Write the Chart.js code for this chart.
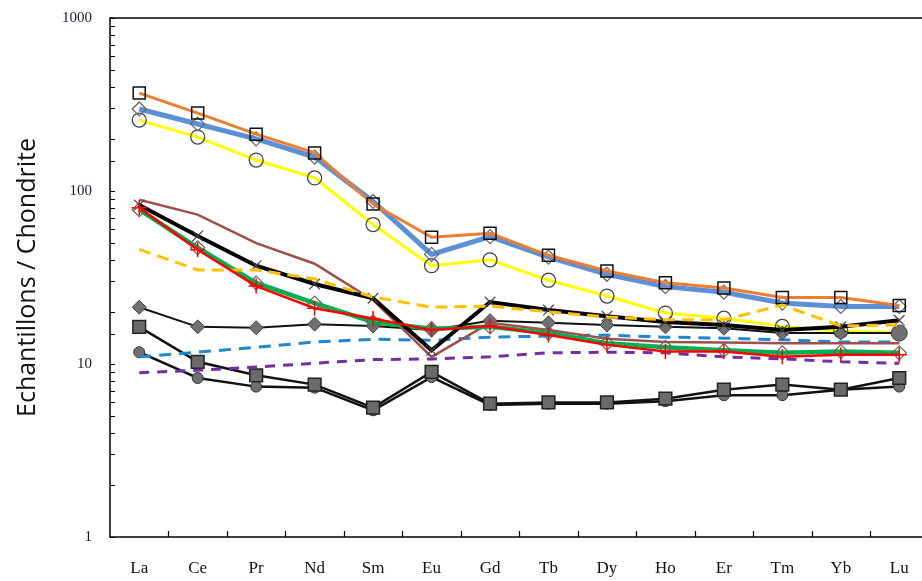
<!DOCTYPE html>
<html>
<head>
<meta charset="utf-8">
<script src="https://cdn.jsdelivr.net/npm/chart.js@4.4.1/dist/chart.umd.min.js"></script>
<style>
  html, body { margin: 0; padding: 0; background: #fff; overflow: hidden; }
  #wrap { width: 922px; height: 581px; overflow: hidden; }
</style>
</head>
<body>
<div id="wrap"><canvas id="ree" width="939" height="581"></canvas></div>
<script>
// Terres rares normalisées aux chondrites
const elements = ['La', 'Ce', 'Pr', 'Nd', 'Sm', 'Eu', 'Gd', 'Tb', 'Dy', 'Ho', 'Er', 'Tm', 'Yb', 'Lu'];
const yTickLabels = [1, 10, 100, 1000];

const orangeSq   = [368, 282, 213, 166, 84, 54, 57, 42.5, 34.5, 29.5, 27.5, 24.2, 24.2, 21.8];
const blueDiam   = [298, 244, 200, 157, 87, 43, 54.5, 41.5, 33, 28, 26, 22.5, 21.5, 21.5];
const yellowCirc = [257, 205, 151, 119, 64, 37, 40, 30.5, 24.7, 19.7, 18.4, 16.5, 15.5, 15.2];
const goldDash   = [46, 35, 35, 31, 24.4, 21.3, 21.6, 20, 18.7, 18, 18, 21.9, 16.6, 16.8];
const blackX     = [83, 55, 37, 29, 24, 12, 22.8, 20.5, 18.9, 17.5, 16.8, 15.7, 16.4, 17.9];
const greyDiam   = [21.3, 16.4, 16.2, 17, 16.6, 15.7, 17.8, 17.3, 16.8, 16.4, 16.1, 15.1, 15.1, 15.1];
const brown      = [89, 73, 50, 38, 23.4, 11, 17.3, 15.7, 14, 13.4, 13.3, 13.2, 13.2, 13.2];
const greenDiam  = [78, 47, 29.4, 22.5, 17.5, 16, 16.4, 15.1, 13.2, 12.5, 12, 11.6, 11.8, 11.6];
const redCross   = [80, 45.7, 28.2, 21, 18.3, 15.7, 16.6, 14.7, 12.9, 11.8, 11.8, 11, 11.3, 11.3];
const blueDash   = [11, 11.7, 12.5, 13.4, 13.9, 13.7, 14.3, 14.5, 14.7, 14.3, 14.1, 13.8, 13.4, 13.4];
const purpleDash = [8.9, 9.2, 9.6, 10.1, 10.6, 10.7, 11, 11.6, 11.7, 11.6, 11, 10.7, 10.3, 10.1];
const greySq     = [16.4, 10.3, 8.6, 7.6, 5.6, 9.0, 5.9, 6.0, 6.0, 6.3, 7.1, 7.6, 7.1, 8.3];
const greyCirc   = [11.7, 8.3, 7.4, 7.3, 5.4, 8.4, 5.8, 5.9, 5.9, 6.1, 6.6, 6.6, 7.1, 7.4];

function serie(data, color, width, extra) {
  return Object.assign({
    data,
    borderColor: color,
    borderWidth: width,
    tension: 0,
    pointRadius: 0,
    pointHoverRadius: 0,
    fill: false
  }, extra || {});
}

// cadre + petites graduations vers l'intérieur
const framePlugin = {
  id: 'frame',
  afterDraw(chart) {
    const { ctx, chartArea: a, scales: { x, y } } = chart;
    ctx.save();
    ctx.strokeStyle = '#000';
    ctx.lineWidth = 1.5;
    ctx.strokeRect(a.left, a.top, a.right - a.left, a.bottom - a.top);
    ctx.lineWidth = 1.2;
    ctx.beginPath();
    y.ticks.forEach(t => {
      const py = Math.round(y.getPixelForValue(t.value)) + 0.5;
      ctx.moveTo(a.left, py);
      ctx.lineTo(a.left + 5, py);
    });
    for (let i = 0; i < elements.length - 1; i++) {
      const px = Math.round((x.getPixelForValue(i) + x.getPixelForValue(i + 1)) / 2) + 0.5;
      ctx.moveTo(px, a.bottom);
      ctx.lineTo(px, a.bottom - 6);
    }
    ctx.stroke();
    ctx.restore();
  }
};

const clear = 'rgba(255,255,255,0)';
const luCircle = elements.map((e, i) => i === elements.length - 1 ? 'circle' : 'rectRot');
const luRadius = elements.map((e, i) => i === elements.length - 1 ? 8 : 7);

new Chart(document.getElementById('ree'), {
  type: 'line',
  data: {
    labels: elements,
    datasets: [
      serie(redCross, '#ff0000', 2.5, { order: 1, pointStyle: 'cross', pointRadius: 7.5, pointBorderColor: '#ff0000', pointBorderWidth: 1.5 }),
      serie(goldDash, '#ffc000', 3, { order: 2, borderDash: [12, 7] }),
      serie(blackX, '#000000', 4, { order: 3, pointStyle: 'crossRot', pointRadius: 7.5, pointBorderColor: '#444', pointBorderWidth: 1.2 }),
      serie(greenDiam, '#00b050', 4.5, { order: 4, pointStyle: 'rectRot', pointRadius: 7, pointBorderColor: '#666', pointBackgroundColor: clear, pointBorderWidth: 1.2 }),
      serie(brown, '#a0504a', 2.5, { order: 5 }),
      serie(greyDiam, '#111', 2, { order: 6, pointStyle: luCircle, pointRadius: luRadius, pointBorderColor: '#444', pointBackgroundColor: '#707070', pointBorderWidth: 1 }),
      serie(orangeSq, '#ed7d31', 3, { order: 7, pointStyle: 'rect', pointRadius: 8.5, pointBorderColor: '#111', pointBackgroundColor: clear, pointBorderWidth: 1.5 }),
      serie(blueDiam, '#5b8fd6', 5, { order: 8, pointStyle: 'rectRot', pointRadius: 7, pointBorderColor: '#666', pointBackgroundColor: clear, pointBorderWidth: 1.2 }),
      serie(yellowCirc, '#ffff00', 3, { order: 9, pointStyle: 'circle', pointRadius: 7, pointBorderColor: '#444', pointBackgroundColor: clear, pointBorderWidth: 1.3 }),
      serie(blueDash, '#1f86d2', 3, { order: 10, borderDash: [12, 8] }),
      serie(purpleDash, '#7030a0', 3, { order: 11, borderDash: [10, 8] }),
      serie(greySq, '#111', 2.5, { order: 12, pointStyle: 'rect', pointRadius: 9, pointBorderColor: '#222', pointBackgroundColor: '#6a6a6a', pointBorderWidth: 1.5 }),
      serie(greyCirc, '#111', 2.5, { order: 13, pointStyle: 'circle', pointRadius: 5.5, pointBorderColor: '#333', pointBackgroundColor: '#707070', pointBorderWidth: 1 })
    ]
  },
  options: {
    responsive: false,
    devicePixelRatio: 1,
    animation: false,
    layout: { padding: { top: 18, right: 1, left: 0, bottom: 0 } },
    plugins: { legend: { display: false }, tooltip: { enabled: false } },
    scales: {
      x: {
        type: 'category',
        offset: true,
        grid: { display: false, drawTicks: false },
        border: { display: false },
        ticks: {
          padding: 21,
          color: '#111',
          font: { family: '"Liberation Serif", "DejaVu Serif", serif', size: 17 },
          maxRotation: 0,
          autoSkip: false
        },
        afterFit(scale) { scale.height = 44; scale.paddingLeft = 0; scale.paddingRight = 0; }
      },
      y: {
        type: 'logarithmic',
        min: 1,
        max: 1000,
        grid: { display: false, drawTicks: false },
        border: { display: false },
        ticks: {
          autoSkip: false,
          padding: 18,
          color: '#1a1a2e',
          font: { family: '"Liberation Serif", "DejaVu Serif", serif', size: 15 },
          callback(v) { return yTickLabels.includes(v) ? String(v) : ''; }
        },
        title: {
          display: true,
          text: 'Echantillons / Chondrite',
          color: '#111',
          padding: { top: 13, bottom: 0 },
          font: { family: '"Open Sans", "Noto Sans", sans-serif', size: 25, weight: 'normal' }
        },
        afterFit(scale) { scale.width = 110; scale.paddingTop = 0; scale.paddingBottom = 0; }
      }
    }
  },
  plugins: [framePlugin]
});
</script>
</body>
</html>
